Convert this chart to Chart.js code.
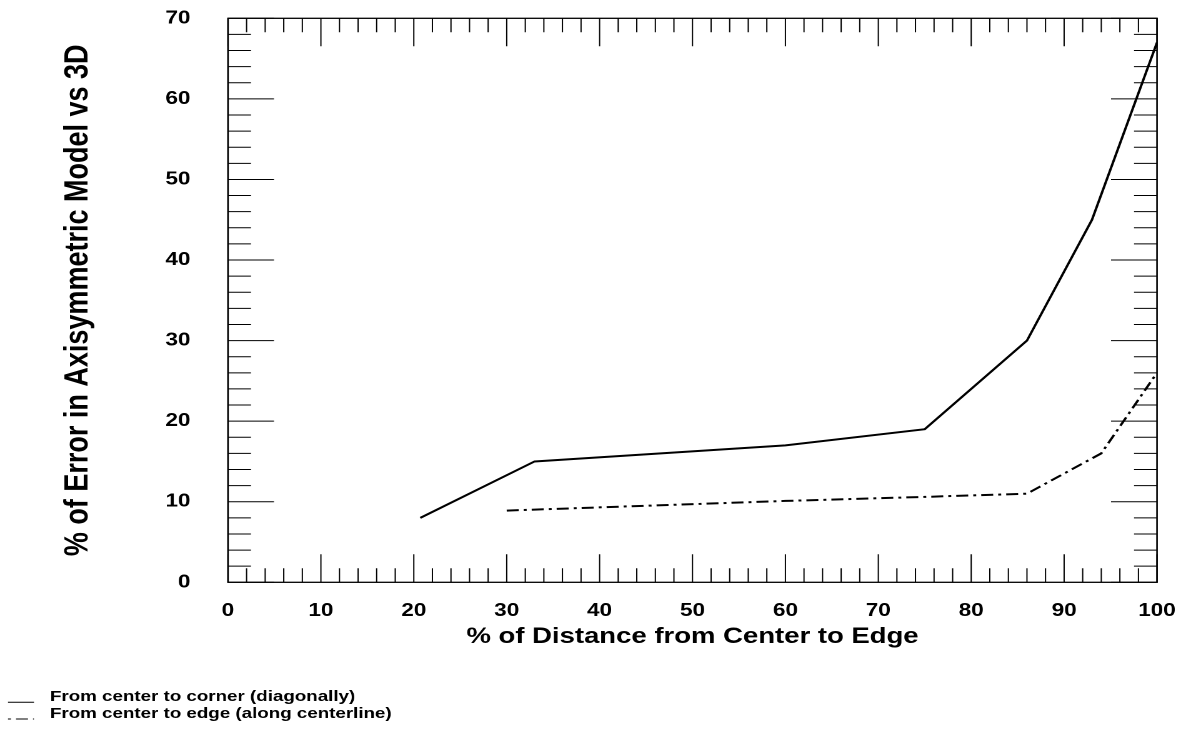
<!DOCTYPE html>
<html><head><meta charset="utf-8">
<script src="https://cdn.jsdelivr.net/npm/chart.js@4.4.1/dist/chart.umd.min.js"></script>
<style>html,body{margin:0;padding:0;background:#fff;overflow:hidden}canvas{display:block}</style>
</head><body>
<canvas id="c" width="945" height="731" style="width:1181px;height:731px"></canvas>
<script>
// ---- data ----
const xCorner = [20.7, 33, 60, 75, 86, 93, 100];
const yCorner = [8, 15, 17, 19, 30, 45, 67];
const xEdge = [30, 60, 75, 86, 94, 100];
const yEdge = [8.9, 10.1, 10.6, 11, 16, 26];
const seriesLabels = ['From center to corner (diagonally)', 'From center to edge (along centerline)'];
const xTicks = [0, 10, 20, 30, 40, 50, 60, 70, 80, 90, 100];
const yTicks = [0, 10, 20, 30, 40, 50, 60, 70];
const xTitle = '% of Distance from Center to Edge';
const yTitle = '% of Error in Axisymmetric Model vs 3D';

const FONT = '"Liberation Sans", Arial, Helvetica, sans-serif';
const SX = 1181 / 945; // horizontal stretch of the whole picture
const edgeDash = [9.6, 4, 2.4, 4];

const framePlugin = {
  id: 'frameTicks',
  afterDraw(chart) {
    const ctx = chart.ctx, a = chart.chartArea;
    const xs = chart.scales.x, ys = chart.scales.y;
    ctx.save();
    ctx.strokeStyle = '#000';
    ctx.lineWidth = 1;
    ctx.beginPath();
    for (let v = 0; v <= 100; v += 2) {
      const p = xs.getPixelForValue(v);
      const L = (v % 10 === 0) ? 28 : 14;
      ctx.moveTo(p, a.bottom); ctx.lineTo(p, a.bottom - L);
      ctx.moveTo(p, a.top); ctx.lineTo(p, a.top + L);
    }
    for (let v = 0; v <= 70; v += 2) {
      const p = ys.getPixelForValue(v);
      const L = (v % 10 === 0) ? 36.8 : 18.4;
      ctx.moveTo(a.left, p); ctx.lineTo(a.left + L, p);
      ctx.moveTo(a.right, p); ctx.lineTo(a.right - L, p);
    }
    ctx.stroke();
    ctx.lineWidth = 1.3;
    ctx.strokeRect(a.left, a.top, a.right - a.left, a.bottom - a.top);

    // legend
    const ds = chart.data.datasets;
    const rows = [{y: 702.3, ty: 696.8}, {y: 719, ty: 713.8}];
    ctx.font = 'bold 15px ' + FONT;
    ctx.fillStyle = '#000';
    ctx.textBaseline = 'middle';
    ctx.textAlign = 'left';
    ds.forEach((d, i) => {
      ctx.beginPath();
      ctx.lineWidth = 1;
      ctx.setLineDash(d.borderDash || []);
      ctx.lineDashOffset = d.borderDash ? 13.6 : 0;
      ctx.moveTo(6.4, rows[i].y); ctx.lineTo(27.2, rows[i].y);
      ctx.stroke();
      ctx.setLineDash([]);
      ctx.fillText(d.label, 40, rows[i].ty);
    });
    ctx.restore();
  }
};

new Chart(document.getElementById('c'), {
  type: 'line',
  data: {
    datasets: [
      { label: seriesLabels[0], data: xCorner.map((x, i) => ({x, y: yCorner[i]})),
        borderColor: '#000', borderWidth: 2, pointRadius: 0, tension: 0, fill: false },
      { label: seriesLabels[1], data: xEdge.map((x, i) => ({x, y: yEdge[i]})),
        borderColor: '#000', borderWidth: 2, borderDash: edgeDash, pointRadius: 0, tension: 0, fill: false }
    ]
  },
  options: {
    responsive: false,
    animation: false,
    devicePixelRatio: 2,
    layout: { padding: { left: 0, top: 18.3, right: 19.2, bottom: 0 } },
    plugins: { legend: { display: false }, tooltip: { enabled: false } },
    scales: {
      x: {
        type: 'linear', min: 0, max: 100,
        afterBuildTicks: s => { s.ticks = xTicks.map(v => ({value: v})); },
        afterFit: s => { s.height = 731 - 582.3; s.paddingLeft = 0; s.paddingRight = 0; },
        grid: { display: false, drawTicks: false, tickLength: 0 },
        border: { display: false },
        ticks: { autoSkip: false, maxRotation: 0, padding: 18, color: '#000',
          font: { family: FONT, size: 18, weight: 'bold' } },
        title: { display: true, text: xTitle, color: '#000',
          font: { family: FONT, size: 22, weight: 'bold' }, padding: { top: 0, bottom: 80.8 } }
      },
      y: {
        type: 'linear', min: 0, max: 70,
        afterBuildTicks: s => { s.ticks = yTicks.map(v => ({value: v})); },
        afterFit: s => { s.width = 228 / SX; s.paddingTop = 0; s.paddingBottom = 0; },
        grid: { display: false, drawTicks: false, tickLength: 0 },
        border: { display: false },
        ticks: { autoSkip: false, padding: 30, color: '#000',
          font: { family: FONT, size: 18, weight: 'bold' } },
        title: { display: true, text: yTitle, color: '#000',
          font: { family: FONT, size: 27, weight: 'bold' }, padding: { top: 46.2, bottom: 0 } }
      }
    }
  },
  plugins: [framePlugin]
});
</script>
</body></html>
